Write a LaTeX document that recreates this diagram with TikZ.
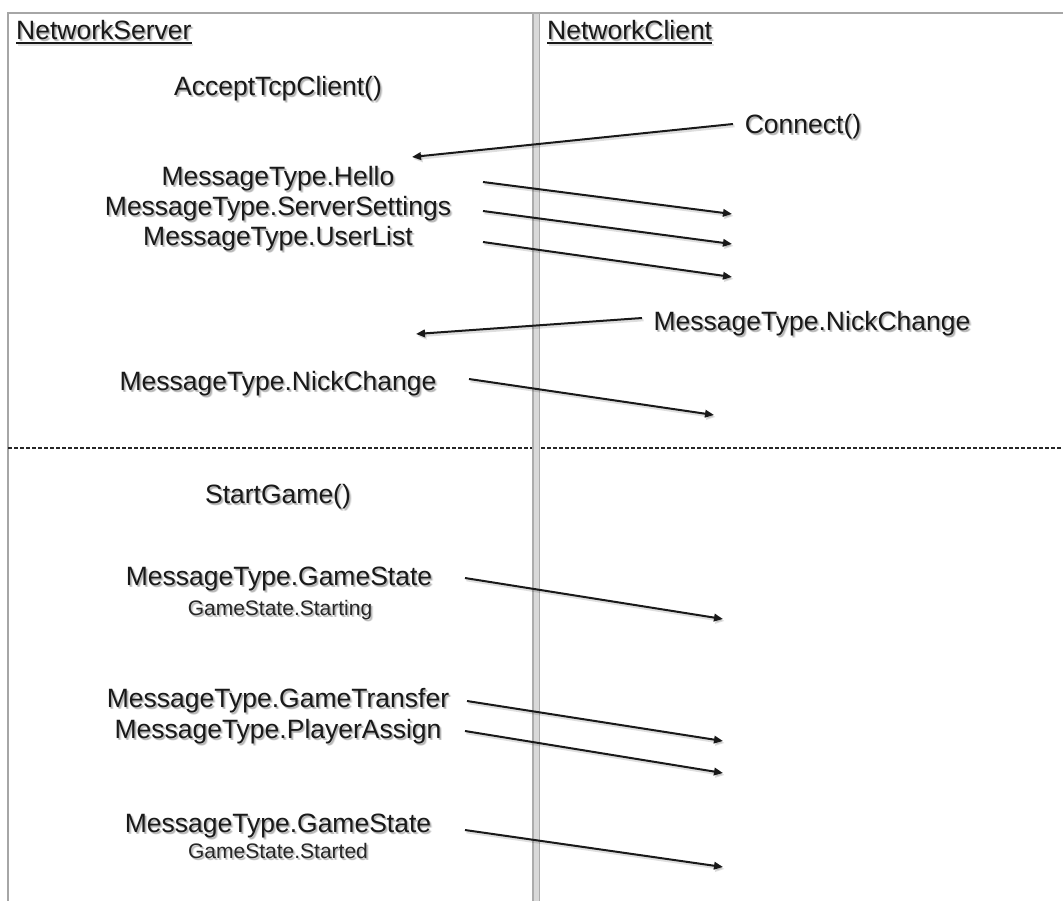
\documentclass[tikz,border=0pt]{standalone}
\usepackage{fontspec}
\setmainfont{Liberation Sans}
\usetikzlibrary{arrows.meta}

\tikzset{
  lbl/.style={font=\fontsize{26.5}{30}\selectfont, inner sep=0pt, anchor=base, text=black!90},
  sublbl/.style={font=\fontsize{21}{24}\selectfont, inner sep=0pt, anchor=base, text=black!85},
  msg/.style={line width=2pt, black!90, -{Triangle[length=9pt,width=7.5pt]}},
  msgshadow/.style={line width=2.6pt, black, opacity=0.13, -{Triangle[length=9pt,width=8pt]}},
  lane/.style={draw=gray!70, line width=2.5pt},
  lanesep/.style={draw=gray!65, fill=gray!30, line width=1.3pt},
  divider/.style={line width=2pt, dash pattern=on 4pt off 2pt, black!85},
}

% text with a soft drop shadow: name, position, style, text
\newcommand\shadowed[4]{%
  \foreach \dx/\dy/\op in {1.5/2/0.2, 2.5/2.5/0.1, 1/1/0.1}
    \node[#3, opacity=\op] at ([shift={(\dx,\dy)}]#2) {#4};
  \node[#3] (#1) at (#2) {#4};
}
% message arrow with a faint shadow
\newcommand\msgarrow[2]{%
  \draw[msgshadow] ([shift={(1.5,2)}]#1) -- ([shift={(1.5,2)}]#2);
  \draw[msg] (#1) -- (#2);
}

\begin{document}
\begin{tikzpicture}[x=1pt,y=-1pt]
  \useasboundingbox (0,0) rectangle (1063,900);
  \fill[white] (0,0) rectangle (1063,900);

  % swim lanes
  \draw[lane] (8,910) -- (8,13) -- (1070,13);
  \draw[lanesep] (533,13) rectangle (539.5,910);

  % phase divider
  \draw[divider] (8,448) -- (532,448);
  \draw[divider] (541,448) -- (1063,448);

  % lane headers
  \shadowed{ns}{16,39}{lbl, anchor=base west}{NetworkServer}
  \shadowed{nc}{547,39}{lbl, anchor=base west}{NetworkClient}
  \foreach \h in {ns,nc} {
    \draw[line width=2.2pt, black, opacity=0.12] ([shift={(1.5,6)}]\h.base west) -- ([shift={(1.5,6)}]\h.base east);
    \draw[line width=1.8pt, black!90] ([yshift=-4pt]\h.base west) -- ([yshift=-4pt]\h.base east);
  }

  % connection phase
  \shadowed{accept}{278,95}{lbl}{AcceptTcpClient()}
  \shadowed{connect}{803,133}{lbl}{Connect()}
  \shadowed{hello}{278,185}{lbl}{MessageType.Hello}
  \shadowed{settings}{278,215}{lbl}{MessageType.ServerSettings}
  \shadowed{userlist}{278,245}{lbl}{MessageType.UserList}
  \shadowed{nickc}{812,330}{lbl}{MessageType.NickChange}
  \shadowed{nicks}{278,390}{lbl}{MessageType.NickChange}

  % game phase
  \shadowed{start}{278,503}{lbl}{StartGame()}
  \shadowed{gsa}{279,585}{lbl}{MessageType.GameState}
  \shadowed{gsasub}{280,615}{sublbl}{GameState.Starting}
  \shadowed{transfer}{278,707}{lbl}{MessageType.GameTransfer}
  \shadowed{assign}{278,738}{lbl}{MessageType.PlayerAssign}
  \shadowed{gsb}{278,832}{lbl}{MessageType.GameState}
  \shadowed{gsbsub}{278,858}{sublbl}{GameState.Started}

  % arrow end points
  \coordinate (connS) at (733,124);   \coordinate (connE) at (412,157);
  \coordinate (helloS) at (483,182);  \coordinate (helloE) at (732,214);
  \coordinate (setS) at (483,211);    \coordinate (setE) at (732,244);
  \coordinate (ulS) at (483,242);     \coordinate (ulE) at (732,277);
  \coordinate (nickcS) at (642,318);  \coordinate (nickcE) at (416,334);
  \coordinate (nicksS) at (469,379);  \coordinate (nicksE) at (714,415);
  \coordinate (gsaS) at (465,578);    \coordinate (gsaE) at (723,619);
  \coordinate (trS) at (467,701);     \coordinate (trE) at (723,741);
  \coordinate (paS) at (465,731);     \coordinate (paE) at (723,773);
  \coordinate (gsbS) at (465,830);    \coordinate (gsbE) at (723,867);

  \msgarrow{connS}{connE}
  \msgarrow{helloS}{helloE}
  \msgarrow{setS}{setE}
  \msgarrow{ulS}{ulE}
  \msgarrow{nickcS}{nickcE}
  \msgarrow{nicksS}{nicksE}
  \msgarrow{gsaS}{gsaE}
  \msgarrow{trS}{trE}
  \msgarrow{paS}{paE}
  \msgarrow{gsbS}{gsbE}
\end{tikzpicture}
\end{document}
